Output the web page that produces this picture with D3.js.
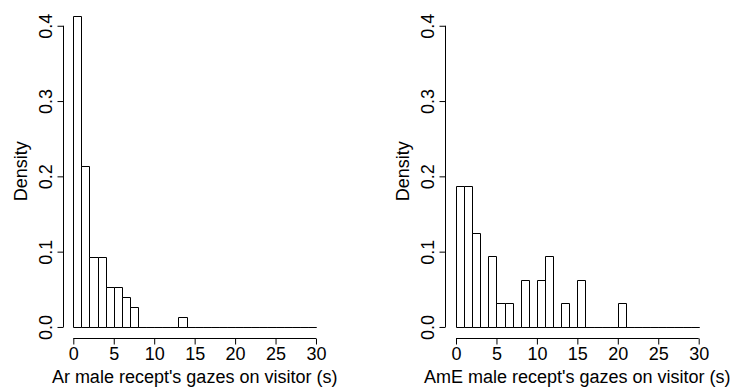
<!DOCTYPE html>
<html>
<head>
<meta charset="utf-8">
<script src="https://cdn.jsdelivr.net/npm/d3@7"></script>
<style>
  html, body { margin: 0; padding: 0; background: #fff; }
  svg { display: block; }
  text { font-family: "Liberation Sans", Arial, Helvetica, sans-serif; fill: #000; }
</style>
</head>
<body>
<svg id="chart" width="732" height="391"></svg>
<script>
// Histogram bin edges (seconds), one-second bins from 0 to 30
const binEdges = d3.range(0, 31);

// Density per bin, Arabic male receptionists
const arDensity = [0.4133, 0.2133, 0.0933, 0.0933, 0.0533, 0.0533, 0.0400, 0.0267, 0, 0,
                   0, 0, 0, 0.0133, 0, 0, 0, 0, 0, 0,
                   0, 0, 0, 0, 0, 0, 0, 0, 0, 0];

// Density per bin, American English male receptionists
const ameDensity = [0.1875, 0.1875, 0.1250, 0, 0.09375, 0.03125, 0.03125, 0, 0.0625, 0,
                    0.0625, 0.09375, 0, 0.03125, 0, 0.0625, 0, 0, 0, 0,
                    0.03125, 0, 0, 0, 0, 0, 0, 0, 0, 0];

const xTicks = [0, 5, 10, 15, 20, 25, 30];
const yTicks = [0, 0.1, 0.2, 0.3, 0.4];
const yTickLabels = ["0.0", "0.1", "0.2", "0.3", "0.4"];

const xTitles = ["Ar male recept's gazes on visitor (s)", "AmE male recept's gazes on visitor (s)"];
const yTitle = "Density";

const panels = [
  { values: arDensity, title: xTitles[0], left: 63.6 },
  { values: ameDensity, title: xTitles[1], left: 446.3 }
];

const svg = d3.select("#chart");
const fontSize = 18;
const fontFamily = '"Liberation Sans", Arial, sans-serif';
const plotW = 262.1;   // width of the plotting region (x domain -1.2 .. 31.2)
const plotTop = 3.3, plotBottom = 339.4;

panels.forEach(p => {
  const x = d3.scaleLinear().domain([-1.2, 31.2]).range([p.left, p.left + plotW]);
  const y = d3.scaleLinear().domain([-0.01653, 0.42983]).range([plotBottom, plotTop]);
  const g = svg.append("g");

  // bars (zero-height bins still show as a line on the baseline)
  g.selectAll("path.bar")
    .data(p.values)
    .join("path")
    .attr("class", "bar")
    .attr("d", (d, i) => {
      const x0 = Math.round(x(binEdges[i])) + 0.5;
      const x1 = Math.round(x(binEdges[i + 1])) + 0.5;
      const y0 = Math.round(y(0)) + 0.5;
      const y1 = Math.round(y(d)) + 0.5;
      return `M${x0},${y0}V${y1}H${x1}V${y0}Z`;
    })
    .attr("fill", "#fff")
    .attr("stroke", "#000")
    .attr("stroke-width", 1);

  // x axis
  const xAxis = d3.axisBottom(x).tickValues(xTicks).tickSize(6).tickSizeOuter(0).tickPadding(3);
  const gx = g.append("g")
    .attr("transform", `translate(0,${Math.round(plotBottom) - 0.5})`)
    .call(xAxis);
  gx.select(".domain").attr("d", `M${x(0)},0H${x(30)}`).attr("stroke", "#000");
  gx.selectAll("text").attr("font-size", fontSize).style("font-family", fontFamily);

  // y axis with labels parallel to the axis
  const yAxis = d3.axisLeft(y).tickValues(yTicks).tickSize(6).tickSizeOuter(0)
    .tickFormat((d, i) => yTickLabels[i]);
  const gy = g.append("g")
    .attr("transform", `translate(${Math.round(p.left) - 0.5},0)`)
    .call(yAxis);
  gy.select(".domain").attr("d", `M0,${y(0)}V${y(0.4)}`).attr("stroke", "#000");
  gy.selectAll("text")
    .attr("transform", "rotate(-90)")
    .attr("x", 0)
    .attr("y", -12)
    .attr("dy", 0)
    .attr("text-anchor", "middle")
    .attr("font-size", fontSize)
    .style("font-family", fontFamily);

  // axis titles
  g.append("text")
    .attr("x", (x(-1.2) + x(31.2)) / 2)
    .attr("y", 383)
    .attr("text-anchor", "middle")
    .attr("font-size", fontSize)
    .text(p.title);

  const cy = (plotTop + plotBottom) / 2;
  g.append("text")
    .attr("transform", `translate(${p.left - 37},${cy}) rotate(-90)`)
    .attr("text-anchor", "middle")
    .attr("font-size", fontSize)
    .text(yTitle);
});
</script>
</body>
</html>
